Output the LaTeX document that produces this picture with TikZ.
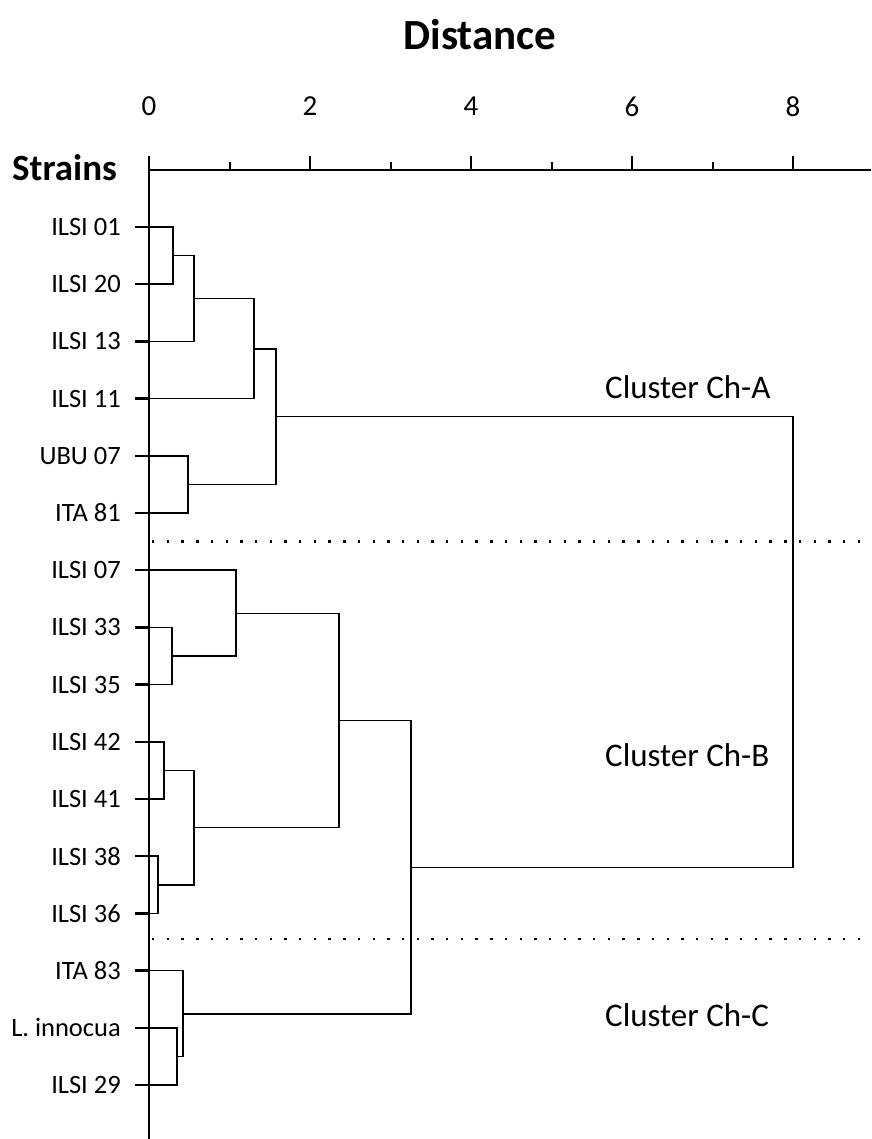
\documentclass[tikz,border=0pt]{standalone}
\usepackage{fontspec}
\setmainfont{Carlito}
\begin{document}
\begin{tikzpicture}[x=1pt,y=-1pt,
  branch/.style={line width=1.5pt,black},
  axisline/.style={line width=2pt,black},
  leaftick/.style={line width=2.4pt,black},
  leaflabel/.style={anchor=east,inner sep=0pt,font=\fontsize{26.5}{30}\selectfont},
  ticklabel/.style={anchor=center,inner sep=0pt,font=\fontsize{29}{33}\selectfont},
  clusterlabel/.style={anchor=west,inner sep=0pt,font=\fontsize{33}{38}\selectfont},
  sepline/.style={line width=2.4pt,dash pattern=on 2.4pt off 12.3pt,black},
  boldtitle/.style={inner sep=0pt,font=\bfseries\fontsize{43}{48}\selectfont}
]
\useasboundingbox[fill=white] (0,0) rectangle (871,1139);

% title and axis labels
\node[boldtitle] (title) at (480,35) {Distance};
\node[inner sep=0pt,anchor=west,font=\bfseries\fontsize{37}{42}\selectfont] (strains) at (12,168) {Strains};

% axis
\coordinate (origin) at (149,170);
\coordinate (xend) at (871,170);
\coordinate (ytop) at (149,156);
\coordinate (ybot) at (149,1139);
\draw[axisline] (origin) -- (xend);
\draw[axisline] (ytop) -- (ybot);
\foreach \d/\lab in {0/0,2/2,4/4,6/6,8/8} {
  \coordinate (tk\d) at ({149+80.5*\d},170);
  \draw[axisline] (tk\d) -- ++(0,-14);
  \node[ticklabel] (tl\d) at ({149+80.5*\d},106.5) {\lab};
}
\foreach \d in {1,3,5,7} {
  \coordinate (tk\d) at ({149+80.5*\d},170);
  \draw[axisline] (tk\d) -- ++(0,-8);
}

% leaves
\foreach \i/\lab in {0/ILSI 01,1/ILSI 20,2/ILSI 13,3/ILSI 11,4/UBU 07,5/ITA 81,
  6/ILSI 07,7/ILSI 33,8/ILSI 35,9/ILSI 42,10/ILSI 41,11/ILSI 38,12/ILSI 36,
  13/ITA 83,14/L. innocua,15/ILSI 29} {
  \coordinate (l\i) at (149,{227+57.2*\i});
  \coordinate (lt\i) at (135,{227+57.2*\i});
  \node[leaflabel] (t\i) at (121,{227+57.2*\i}) {\lab};
  \draw[leaftick] (lt\i) -- (l\i);
}

% merge points (x = 149 + 80.5*distance)
\coordinate (m1) at (173,255.6);
\coordinate (m2) at (194,298.3);
\coordinate (m3) at (254,348.8);
\coordinate (m4) at (188,484.4);
\coordinate (m5) at (276,416.6);
\coordinate (m6) at (172,656.0);
\coordinate (m7) at (236,613.5);
\coordinate (m8) at (164,770.4);
\coordinate (m9) at (158,885.0);
\coordinate (m10) at (194,827.7);
\coordinate (m11) at (339,720.6);
\coordinate (m12) at (177,1056.4);
\coordinate (m13) at (183,1014.0);
\coordinate (m14) at (411,867.3);
\coordinate (m15) at (793,642.0);

\draw[branch] (l0) -| (m1) |- (l1);
\draw[branch] (m1) -| (m2) |- (l2);
\draw[branch] (m2) -| (m3) |- (l3);
\draw[branch] (l4) -| (m4) |- (l5);
\draw[branch] (m3) -| (m5) |- (m4);

\draw[branch] (l7) -| (m6) |- (l8);
\draw[branch] (l6) -| (m7) |- (m6);
\draw[branch] (l9) -| (m8) |- (l10);
\draw[branch] (l11) -| (m9) |- (l12);
\draw[branch] (m8) -| (m10) |- (m9);
\draw[branch] (m7) -| (m11) |- (m10);

\draw[branch] (l14) -| (m12) |- (l15);
\draw[branch] (l13) -| (m13) |- (m12);
\draw[branch] (m11) -| (m14) |- (m13);

\draw[branch] (m5) -| (m15) |- (m14);

% separators
\coordinate (s1a) at (152,541.5);
\coordinate (s1b) at (871,541.5);
\coordinate (s2a) at (152,939);
\coordinate (s2b) at (871,939);
\draw[sepline] (s1a) -- (s1b);
\draw[sepline] (s2a) -- (s2b);

% cluster labels
\node[clusterlabel] (cA) at (605,387) {Cluster Ch-A};
\node[clusterlabel] (cB) at (605,755) {Cluster Ch-B};
\node[clusterlabel] (cC) at (605,1015) {Cluster Ch-C};
\end{tikzpicture}
\end{document}
